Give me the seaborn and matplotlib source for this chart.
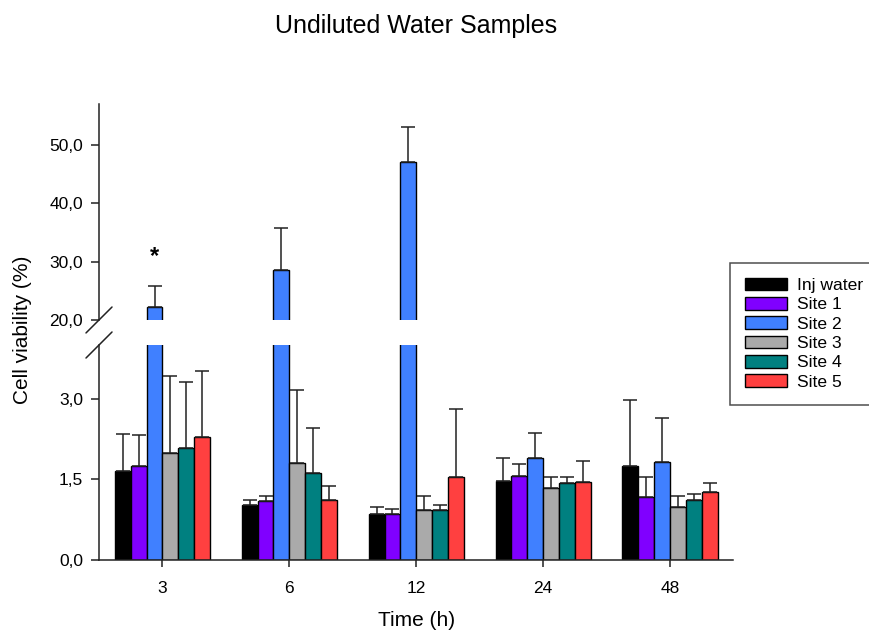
import numpy as np
import pandas as pd
import matplotlib
matplotlib.use("Agg")
import matplotlib.pyplot as plt
import seaborn as sns
from matplotlib.ticker import FuncFormatter

# Time points and groups
times = ["3", "6", "12", "24", "48"]
sites = ["Inj water", "Site 1", "Site 2", "Site 3", "Site 4", "Site 5"]
colors = ["#000000", "#8000FF", "#4080FF", "#AAAAAA", "#008080", "#FF4040"]

# mean cell viability (%) per time point
inj_water = [1.65, 1.02, 0.85, 1.47, 1.74]
site_1 = [1.74, 1.10, 0.86, 1.56, 1.17]
site_2 = [22.2, 28.5, 47.0, 1.89, 1.83]
site_3 = [1.99, 1.81, 0.93, 1.34, 0.98]
site_4 = [2.09, 1.62, 0.93, 1.43, 1.11]
site_5 = [2.28, 1.12, 1.55, 1.45, 1.26]

# upper error (SD)
inj_water_sd = [0.70, 0.10, 0.14, 0.43, 1.23]
site_1_sd = [0.59, 0.10, 0.08, 0.22, 0.37]
site_2_sd = [3.6, 7.2, 6.1, 0.47, 0.82]
site_3_sd = [1.43, 1.36, 0.27, 0.20, 0.21]
site_4_sd = [1.22, 0.83, 0.10, 0.12, 0.11]
site_5_sd = [1.23, 0.26, 1.26, 0.40, 0.17]

means = [inj_water, site_1, site_2, site_3, site_4, site_5]
sds = [inj_water_sd, site_1_sd, site_2_sd, site_3_sd, site_4_sd, site_5_sd]

df = pd.DataFrame({
    "time": np.tile(times, len(sites)),
    "site": np.repeat(sites, len(times)),
    "viability": np.concatenate(means),
})

sns.set_style("ticks")
plt.rcParams["font.family"] = ["Liberation Sans", "DejaVu Sans"]
plt.rcParams["text.color"] = "black"
plt.rcParams["xtick.labelcolor"] = "black"
plt.rcParams["ytick.labelcolor"] = "black"
plt.rcParams["axes.labelcolor"] = "black"
line_col = "#222222"

fig = plt.figure(figsize=(8.7, 6.32), dpi=100)
ax_top = fig.add_axes([0.1138, 0.4937, 0.7293, 0.3418])
ax_bot = fig.add_axes([0.1138, 0.1139, 0.7293, 0.3402])

comma = FuncFormatter(lambda v, p: f"{v:.1f}".replace(".", ","))

for ax in (ax_top, ax_bot):
    sns.barplot(data=df, x="time", y="viability", hue="site", order=times,
                hue_order=sites, palette=colors, saturation=1, width=0.75,
                edgecolor="black", linewidth=1, errorbar=None, legend=False, ax=ax)
    bars = list(ax.containers)
    for cont, sd in zip(bars, sds):
        xs = [b.get_x() + b.get_width() / 2 for b in cont]
        ys = [b.get_height() for b in cont]
        ax.errorbar(xs, ys, yerr=[np.zeros(len(sd)), sd], fmt="none",
                    ecolor=line_col, elinewidth=1.1, capsize=5.3, capthick=1.1)
    ax.set_xlim(-0.5, 4.5)
    ax.set_xlabel("")
    ax.set_ylabel("")
    ax.yaxis.set_major_formatter(comma)
    for s in ["top", "right"]:
        ax.spines[s].set_visible(False)
    for s in ["left", "bottom"]:
        ax.spines[s].set_color(line_col)
        ax.spines[s].set_linewidth(1.1)
    ax.tick_params(axis="y", length=5.5, width=1.1, pad=6, labelsize=12.5, color=line_col)
    ax.tick_params(axis="x", length=5, width=1.1, pad=10, labelsize=12.5, color=line_col)

ax_top.set_ylim(20, 57)
ax_top.set_yticks([20, 30, 40, 50])
ax_top.spines["bottom"].set_visible(False)
ax_top.tick_params(axis="x", bottom=False, labelbottom=False)

ax_bot.set_ylim(0, 4.0)
ax_bot.set_yticks([0, 1.5, 3.0])
ax_bot.set_xlabel("Time (h)", fontsize=15, labelpad=11)

# axis break marks
d = dict(color=line_col, lw=1.1, clip_on=False)
ax_bot.plot([-0.0205, 0.0205], [1 - 0.0605, 1 + 0.0605], transform=ax_bot.transAxes, **d)
ax_top.plot([-0.0205, 0.0205], [-0.06, 0.06], transform=ax_top.transAxes, **d)

# significance marker above Site 2 at 3 h
b = ax_top.containers[2][0]
ax_top.text(b.get_x() + b.get_width() / 2, 30.8, "*", ha="center", va="center",
            fontsize=17, fontweight="bold")

fig.text(0.026, 0.478, "Cell viability (%)", rotation=90, ha="center", va="center", fontsize=15)
fig.suptitle("Undiluted Water Samples", x=0.478, y=0.959, va="center", fontsize=18)

leg = fig.legend(handles=list(ax_bot.containers)[:6], labels=sites, loc="upper left",
                 bbox_to_anchor=(0.839, 0.356, 0.5, 0.2284), mode="expand",
                 fontsize=12.6, frameon=True, fancybox=False, borderaxespad=0,
                 handlelength=2.4, handleheight=0.75, handletextpad=0.57,
                 labelspacing=0.22, borderpad=0.85)
leg.get_frame().set_edgecolor(line_col)
leg.get_frame().set_linewidth(1.1)

fig.savefig("out.png", dpi=100)
